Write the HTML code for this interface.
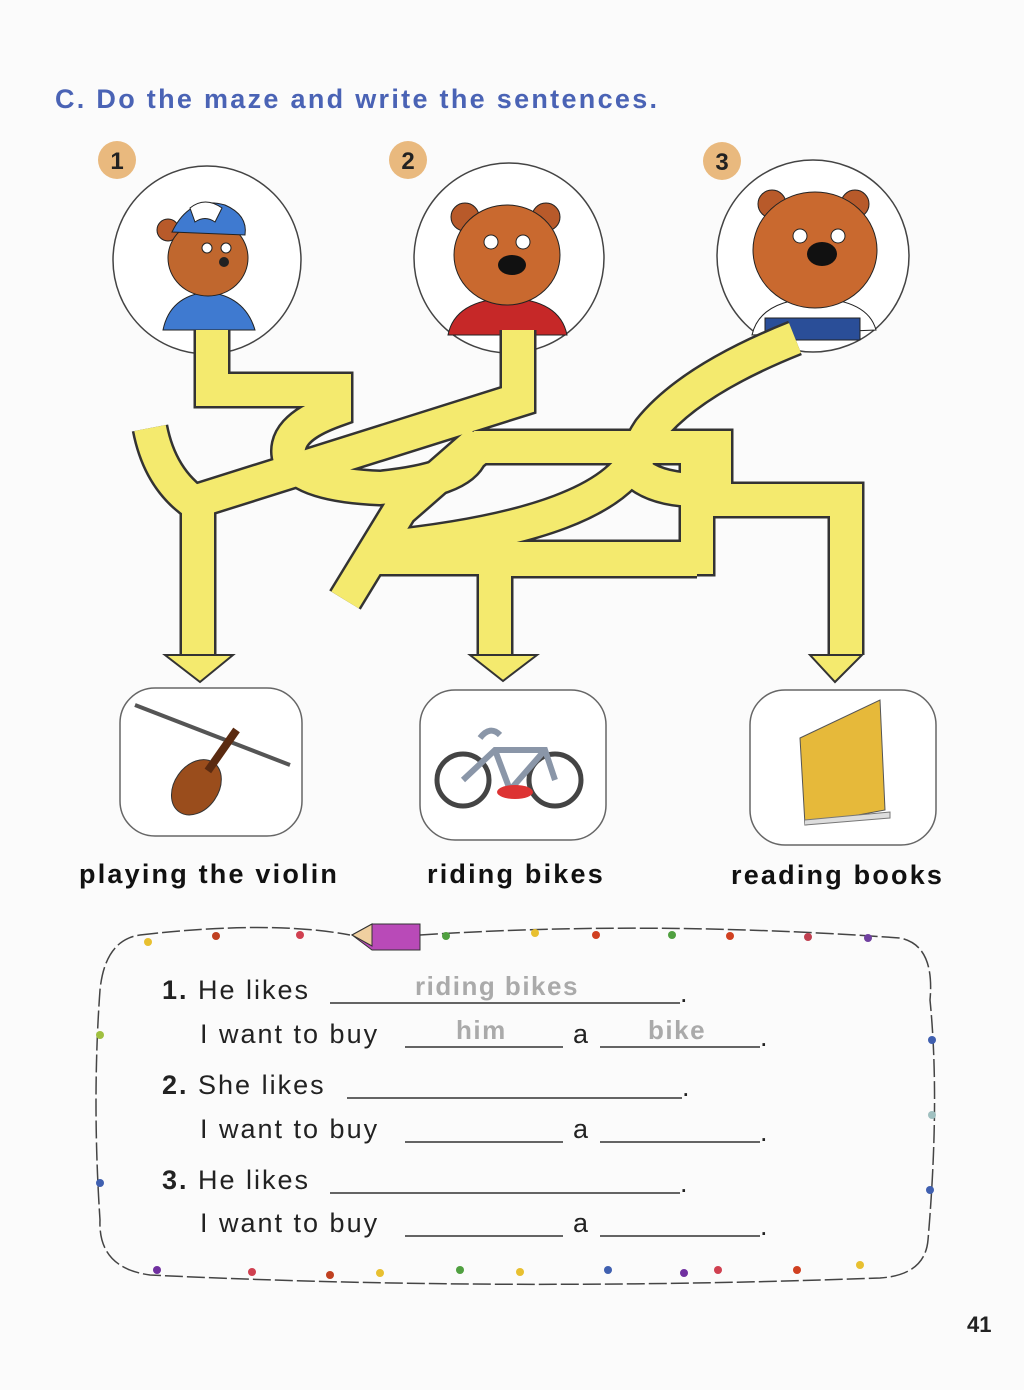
<!DOCTYPE html>
<html><head><meta charset="utf-8"><style>
body{margin:0;background:#fbfbfb;}
svg{display:block}
text{font-family:"Liberation Sans",Arial,sans-serif}
</style></head><body>
<svg width="1024" height="1390" viewBox="0 0 1024 1390">
<rect width="1024" height="1390" fill="#fbfbfb"/>
<text x="55" y="108" font-size="27" font-weight="bold" fill="#4a63b5" letter-spacing="2.3">C. Do the maze and write the sentences.</text>
<g font-size="24" font-weight="bold" fill="#222" text-anchor="middle">
<circle cx="117" cy="160" r="19" fill="#e9b97e"/><text x="117" y="169">1</text>
<circle cx="408" cy="160" r="19" fill="#e9b97e"/><text x="408" y="169">2</text>
<circle cx="722" cy="161" r="19" fill="#e9b97e"/><text x="722" y="170">3</text>
</g>
<g stroke="#444" stroke-width="1.5" fill="#fff">
<circle cx="207" cy="260" r="94"/>
<circle cx="509" cy="258" r="95"/>
<circle cx="813" cy="256" r="96"/>
</g>
<path d="M163,330 Q170,296 207,292 Q245,296 255,330 Z" fill="#3f7ad0" stroke="#222"/>
<circle cx="168" cy="230" r="11" fill="#b85a2a" stroke="#222"/>
<ellipse cx="208" cy="258" rx="40" ry="38" fill="#c0672e" stroke="#222"/>
<path d="M172,232 Q190,195 225,205 Q248,215 245,235 Z" fill="#3f7ad0" stroke="#222"/>
<path d="M190,208 Q205,196 222,208 L215,222 Q205,215 195,222 Z" fill="#fff" stroke="#222"/>
<circle cx="207" cy="248" r="5" fill="#fff" stroke="#222"/><circle cx="226" cy="248" r="5" fill="#fff" stroke="#222"/>
<circle cx="224" cy="262" r="5" fill="#222"/>
<path d="M448,335 Q455,300 508,298 Q560,300 567,335 Z" fill="#c62828" stroke="#222"/>
<circle cx="465" cy="217" r="14" fill="#b85a2a" stroke="#222"/><circle cx="546" cy="217" r="14" fill="#b85a2a" stroke="#222"/>
<ellipse cx="507" cy="255" rx="53" ry="50" fill="#c9692f" stroke="#222"/>
<circle cx="491" cy="242" r="7" fill="#fff" stroke="#222"/><circle cx="523" cy="242" r="7" fill="#fff" stroke="#222"/>
<ellipse cx="512" cy="265" rx="14" ry="10" fill="#111"/>
<path d="M752,335 Q760,300 815,298 Q868,300 876,330 Z" fill="#fff" stroke="#222"/>
<path d="M765,318 H860 V340 H765 Z" fill="#2a4e98" stroke="#222"/>
<circle cx="772" cy="204" r="14" fill="#b85a2a" stroke="#222"/><circle cx="855" cy="204" r="14" fill="#b85a2a" stroke="#222"/>
<ellipse cx="815" cy="250" rx="62" ry="58" fill="#c9692f" stroke="#222"/>
<circle cx="800" cy="236" r="7" fill="#fff" stroke="#222"/><circle cx="838" cy="236" r="7" fill="#fff" stroke="#222"/>
<ellipse cx="822" cy="254" rx="15" ry="12" fill="#111"/>
<g fill="none" stroke-linejoin="miter" stroke-linecap="butt">
<g stroke="#333" stroke-width="37">
<path d="M212,330 V390 H335 V410 Q280,430 290,460 Q305,485 380,488 Q460,480 470,455 L480,447 H715 V500 H846 V655"/>
<path d="M518,330 V400 L200,500"/>
<path d="M150,428 Q160,480 198,505 V655"/>
<path d="M795,338 Q690,380 650,430 Q630,460 640,475 Q660,490 700,490"/>
<path d="M640,450 Q610,525 380,548"/>
<path d="M480,440 L400,510 L345,600"/>
<path d="M697,460 V558 H370"/>
<path d="M697,560 H495 V655"/>
</g>
<g stroke="#f4ea6e" stroke-width="32">
<path d="M212,330 V390 H335 V410 Q280,430 290,460 Q305,485 380,488 Q460,480 470,455 L480,447 H715 V500 H846 V655"/>
<path d="M518,330 V400 L200,500"/>
<path d="M150,428 Q160,480 198,505 V655"/>
<path d="M795,338 Q690,380 650,430 Q630,460 640,475 Q660,490 700,490"/>
<path d="M640,450 Q610,525 380,548"/>
<path d="M480,440 L400,510 L345,600"/>
<path d="M697,460 V558 H370"/>
<path d="M697,560 H495 V655"/>
</g>
</g>
<g fill="#f4ea6e" stroke="#333" stroke-width="2">
<path d="M165,655 H233 L200,682 Z"/>
<path d="M470,655 H537 L503,681 Z"/>
<path d="M810,655 H862 L835,682 Z"/>
</g>
<g fill="#fff" stroke="#666" stroke-width="1.5">
<rect x="120" y="688" width="182" height="148" rx="35"/>
<rect x="420" y="690" width="186" height="150" rx="35"/>
<rect x="750" y="690" width="186" height="155" rx="35"/>
</g>
<line x1="135" y1="705" x2="290" y2="765" stroke="#555" stroke-width="4"/>
<g transform="rotate(35 205 775)"><ellipse cx="205" cy="790" rx="22" ry="30" fill="#9a4d1c" stroke="#333"/><rect x="201" y="720" width="8" height="50" fill="#5a2a10"/></g>
<circle cx="463" cy="780" r="26" fill="none" stroke="#444" stroke-width="5"/>
<circle cx="555" cy="780" r="26" fill="none" stroke="#444" stroke-width="5"/>
<path d="M463,780 L495,750 L545,750 L555,780 M495,750 L510,790 L545,750 M480,738 Q490,725 500,735" fill="none" stroke="#8a96a8" stroke-width="6"/>
<ellipse cx="515" cy="792" rx="18" ry="7" fill="#d33"/>
<path d="M800,738 L880,700 L885,810 L805,825 Z" fill="#e6b93a" stroke="#555"/>
<path d="M805,825 L890,818 L890,812 L805,820" fill="#ddd" stroke="#777"/>
<g font-size="27" font-weight="bold" fill="#111" letter-spacing="2.2">
<text x="79" y="883">playing the violin</text>
<text x="427" y="883">riding bikes</text>
<text x="731" y="884">reading books</text>
</g>
<path d="M140,935 Q270,920 350,935 M420,935 Q650,920 900,938 Q935,945 930,1000 Q940,1100 928,1240 Q925,1275 880,1278 Q500,1292 150,1275 Q98,1268 100,1220 Q92,1100 100,990 Q105,940 140,935" fill="none" stroke="#444" stroke-width="1.5" stroke-dasharray="18 4"/>
<path d="M352,935 L372,924 H420 V950 H372 Z" fill="#b94ab8" stroke="#333"/>
<path d="M352,935 L372,924 V946 Z" fill="#f0d0a0" stroke="#333"/>
<g>
<circle cx="148" cy="942" r="4" fill="#e8c030"/><circle cx="216" cy="936" r="4" fill="#c04020"/><circle cx="300" cy="935" r="4" fill="#d04050"/>
<circle cx="446" cy="936" r="4" fill="#50a040"/><circle cx="535" cy="933" r="4" fill="#e8c030"/><circle cx="596" cy="935" r="4" fill="#d04020"/>
<circle cx="672" cy="935" r="4" fill="#50a040"/><circle cx="730" cy="936" r="4" fill="#d04020"/><circle cx="808" cy="937" r="4" fill="#c04050"/><circle cx="868" cy="938" r="4" fill="#7040a0"/>
<circle cx="100" cy="1035" r="4" fill="#a0c040"/><circle cx="100" cy="1183" r="4" fill="#4060b0"/><circle cx="932" cy="1040" r="4" fill="#4060b0"/><circle cx="932" cy="1115" r="4" fill="#a0c0c0"/><circle cx="930" cy="1190" r="4" fill="#4060b0"/>
<circle cx="157" cy="1270" r="4" fill="#7030a0"/><circle cx="252" cy="1272" r="4" fill="#d04050"/><circle cx="330" cy="1275" r="4" fill="#c04020"/><circle cx="380" cy="1273" r="4" fill="#e8c030"/>
<circle cx="460" cy="1270" r="4" fill="#50a040"/><circle cx="520" cy="1272" r="4" fill="#e8c030"/><circle cx="608" cy="1270" r="4" fill="#4060b0"/><circle cx="684" cy="1273" r="4" fill="#7030a0"/><circle cx="718" cy="1270" r="4" fill="#d04050"/><circle cx="797" cy="1270" r="4" fill="#d04020"/><circle cx="860" cy="1265" r="4" fill="#e8c030"/>
</g>
<g font-size="27" fill="#222" letter-spacing="2">
<text x="162" y="999"><tspan font-weight="bold">1.</tspan> He likes</text>
<text x="200" y="1043">I want to buy</text><text x="573" y="1043">a</text>
<text x="162" y="1094"><tspan font-weight="bold">2.</tspan> She likes</text>
<text x="200" y="1138">I want to buy</text><text x="573" y="1138">a</text>
<text x="162" y="1189"><tspan font-weight="bold">3.</tspan> He likes</text>
<text x="200" y="1232">I want to buy</text><text x="573" y="1232">a</text>
<text x="680" y="1002">.</text><text x="682" y="1096">.</text><text x="680" y="1192">.</text>
<text x="760" y="1046">.</text><text x="760" y="1141">.</text><text x="760" y="1235">.</text>
</g>
<g fill="#aaa" font-size="26" font-weight="bold" letter-spacing="1.5">
<text x="415" y="995">riding bikes</text><text x="456" y="1039">him</text><text x="648" y="1039">bike</text>
</g>
<g stroke="#333" stroke-width="1.5">
<line x1="330" y1="1003" x2="680" y2="1003"/><line x1="405" y1="1047" x2="563" y2="1047"/><line x1="600" y1="1047" x2="760" y2="1047"/>
<line x1="347" y1="1098" x2="682" y2="1098"/><line x1="405" y1="1142" x2="563" y2="1142"/><line x1="600" y1="1142" x2="760" y2="1142"/>
<line x1="330" y1="1193" x2="680" y2="1193"/><line x1="405" y1="1236" x2="563" y2="1236"/><line x1="600" y1="1236" x2="760" y2="1236"/>
</g>
<text x="967" y="1332" font-size="22" font-weight="bold" fill="#222">41</text>
</svg>
</body></html>
